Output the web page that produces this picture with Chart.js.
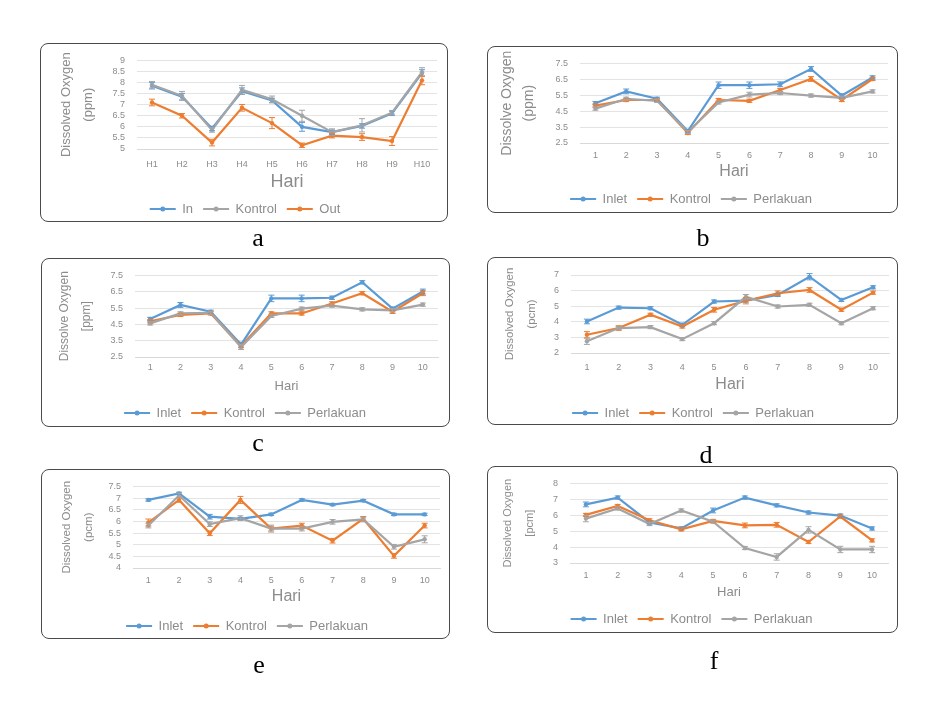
<!DOCTYPE html>
<html>
<head>
<meta charset="utf-8">
<script src="https://cdn.jsdelivr.net/npm/chart.js@4.4.1/dist/chart.umd.min.js"></script>
<style>
    body { margin: 0; background: #fff; width: 930px; height: 708px; position: relative; overflow: hidden; }
    .box { position: absolute; border: 1px solid #4a4a4a; border-radius: 8px; box-sizing: border-box; background: #fff; }
    canvas { position: absolute; }
    .tag { position: absolute; font-family: "Liberation Serif", "Times New Roman", serif; font-size: 26px; line-height: 26px; color: #000; transform: translateX(-50%); }
</style>
</head>
<body>
<div class="box" id="boxA"></div><canvas id="chartA"></canvas>
<div class="box" id="boxB"></div><canvas id="chartB"></canvas>
<div class="box" id="boxC"></div><canvas id="chartC"></canvas>
<div class="box" id="boxD"></div><canvas id="chartD"></canvas>
<div class="box" id="boxE"></div><canvas id="chartE"></canvas>
<div class="box" id="boxF"></div><canvas id="chartF"></canvas>
<div class="tag" style="left:258px;top:225px">a</div>
<div class="tag" style="left:703px;top:225px">b</div>
<div class="tag" style="left:258px;top:430px">c</div>
<div class="tag" style="left:706px;top:442px">d</div>
<div class="tag" style="left:259px;top:652px">e</div>
<div class="tag" style="left:714px;top:648px">f</div>
<script>
// Categories
const hariA = ['H1', 'H2', 'H3', 'H4', 'H5', 'H6', 'H7', 'H8', 'H9', 'H10'];
const hari = ['1', '2', '3', '4', '5', '6', '7', '8', '9', '10'];

// Y tick labels
const yTicksA = [5, 5.5, 6, 6.5, 7, 7.5, 8, 8.5, 9];
const yTicksB = [2.5, 3.5, 4.5, 5.5, 6.5, 7.5];
const yTicksC = [2.5, 3.5, 4.5, 5.5, 6.5, 7.5];
const yTicksD = [2, 3, 4, 5, 6, 7];
const yTicksE = [4, 4.5, 5, 5.5, 6, 6.5, 7, 7.5];
const yTicksF = [3, 4, 5, 6, 7, 8];

// Panel a
const aIn = [7.86, 7.36, 5.93, 7.61, 7.19, 6.0, 5.76, 6.04, 6.61, 8.43];
const aKontrol = [7.9, 7.4, 5.86, 7.67, 7.24, 6.5, 5.76, 6.07, 6.64, 8.47];
const aOut = [7.1, 6.5, 5.29, 6.86, 6.17, 5.17, 5.6, 5.54, 5.36, 8.1];
const aInErr = [0.15, 0.15, 0.1, 0.15, 0.1, 0.2, 0.1, 0.1, 0.1, 0.15];
const aKontrolErr = [0.15, 0.2, 0.1, 0.2, 0.15, 0.25, 0.15, 0.3, 0.1, 0.2];
const aOutErr = [0.15, 0.1, 0.15, 0.15, 0.25, 0.1, 0.1, 0.15, 0.2, 0.2];

// Panel b
const bInlet = [5.0, 5.74, 5.28, 3.25, 6.13, 6.13, 6.19, 7.15, 5.48, 6.62];
const bKontrol = [4.85, 5.2, 5.2, 3.13, 5.2, 5.15, 5.83, 6.52, 5.2, 6.52];
const bPerlakuan = [4.66, 5.28, 5.15, 3.19, 5.05, 5.54, 5.64, 5.48, 5.34, 5.74];
const bInletErr = [0.1, 0.15, 0.1, 0.1, 0.2, 0.2, 0.15, 0.15, 0.1, 0.1];
const bKontrolErr = [0.1, 0.1, 0.1, 0.1, 0.1, 0.1, 0.1, 0.15, 0.1, 0.1];
const bPerlakuanErr = [0.1, 0.1, 0.1, 0.1, 0.1, 0.15, 0.1, 0.1, 0.1, 0.1];

// Panel c
const cInlet = [4.83, 5.69, 5.27, 3.26, 6.09, 6.09, 6.13, 7.08, 5.46, 6.51];
const cKontrol = [4.69, 5.08, 5.17, 3.17, 5.17, 5.17, 5.78, 6.41, 5.27, 6.41];
const cPerlakuan = [4.56, 5.17, 5.21, 3.11, 5.02, 5.46, 5.65, 5.42, 5.36, 5.71];
const cInletErr = [0.1, 0.15, 0.1, 0.15, 0.2, 0.2, 0.1, 0.1, 0.1, 0.15];
const cKontrolErr = [0.1, 0.1, 0.1, 0.1, 0.1, 0.1, 0.1, 0.1, 0.1, 0.15];
const cPerlakuanErr = [0.1, 0.1, 0.1, 0.15, 0.1, 0.1, 0.1, 0.1, 0.1, 0.1];

// Panel d
const dInlet = [4.02, 4.91, 4.87, 3.81, 5.3, 5.36, 5.72, 6.89, 5.4, 6.21];
const dKontrol = [3.17, 3.6, 4.45, 3.7, 4.77, 5.35, 5.83, 6.04, 4.77, 5.87];
const dPerlakuan = [2.75, 3.6, 3.66, 2.89, 3.91, 5.6, 4.98, 5.09, 3.91, 4.87];
const dInletErr = [0.15, 0.1, 0.1, 0.1, 0.1, 0.1, 0.1, 0.2, 0.1, 0.1];
const dKontrolErr = [0.2, 0.15, 0.1, 0.1, 0.15, 0.2, 0.15, 0.15, 0.1, 0.1];
const dPerlakuanErr = [0.2, 0.1, 0.1, 0.1, 0.1, 0.15, 0.1, 0.1, 0.1, 0.1];

// Panel e
const eInlet = [6.92, 7.2, 6.2, 6.11, 6.3, 6.92, 6.72, 6.89, 6.3, 6.3];
const eKontrol = [5.95, 6.92, 5.49, 6.92, 5.69, 5.82, 5.17, 6.11, 4.52, 5.82];
const ePerlakuan = [5.82, 7.11, 5.88, 6.14, 5.69, 5.69, 5.98, 6.08, 4.91, 5.23];
const eInletErr = [0.05, 0.05, 0.1, 0.05, 0.05, 0.05, 0.05, 0.05, 0.05, 0.05];
const eKontrolErr = [0.15, 0.1, 0.1, 0.15, 0.1, 0.1, 0.1, 0.1, 0.1, 0.1];
const ePerlakuanErr = [0.1, 0.1, 0.1, 0.1, 0.15, 0.1, 0.1, 0.1, 0.1, 0.15];

// Panel f
const fInlet = [6.68, 7.11, 5.55, 5.17, 6.3, 7.11, 6.62, 6.17, 5.98, 5.17];
const fKontrol = [6.02, 6.58, 5.68, 5.11, 5.64, 5.36, 5.4, 4.32, 5.92, 4.42];
const fPerlakuan = [5.79, 6.43, 5.45, 6.3, 5.6, 3.94, 3.38, 5.08, 3.85, 3.85];
const fInletErr = [0.15, 0.1, 0.1, 0.1, 0.15, 0.1, 0.1, 0.1, 0.1, 0.1];
const fKontrolErr = [0.1, 0.1, 0.1, 0.1, 0.1, 0.15, 0.15, 0.1, 0.1, 0.1];
const fPerlakuanErr = [0.2, 0.1, 0.1, 0.1, 0.1, 0.1, 0.2, 0.2, 0.2, 0.2];

const BLUE = '#5b9bd5';
const ORANGE = '#ed7d31';
const GRAY = '#a5a5a5';
const TEXT = '#8c8c8c';
const LEG_LINE = 26;
const LEG_SIZE = 13;

// Error bars drawn from the y scale
const errorBars = {
    id: 'errorBars',
    afterDatasetsDraw(chart) {
        const ctx = chart.ctx;
        const y = chart.scales.y;
        chart.data.datasets.forEach((ds, i) => {
            if (!ds.errors) return;
            const meta = chart.getDatasetMeta(i);
            ctx.save();
            ctx.strokeStyle = ds.borderColor;
            ctx.lineWidth = 1;
            meta.data.forEach((pt, j) => {
                const e = ds.errors[j];
                const v = ds.data[j];
                const top = y.getPixelForValue(v + e);
                const bot = y.getPixelForValue(v - e);
                ctx.beginPath();
                ctx.moveTo(pt.x, top); ctx.lineTo(pt.x, bot);
                ctx.moveTo(pt.x - 3, top); ctx.lineTo(pt.x + 3, top);
                ctx.moveTo(pt.x - 3, bot); ctx.lineTo(pt.x + 3, bot);
                ctx.stroke();
            });
            ctx.restore();
        });
    }
};

// Marker in the middle of each legend line
const legendMarkers = {
    id: 'legendMarkers',
    afterDraw(chart) {
        const legend = chart.legend;
        if (!legend || !legend.legendHitBoxes) return;
        const ctx = chart.ctx;
        legend.legendHitBoxes.forEach((hb, i) => {
            const item = legend.legendItems[i];
            const ds = chart.data.datasets[item.datasetIndex];
            ctx.save();
            ctx.fillStyle = ds.borderColor;
            ctx.beginPath();
            ctx.arc(hb.left + LEG_LINE / 2, hb.top + LEG_SIZE / 2, 2.5, 0, Math.PI * 2);
            ctx.fill();
            ctx.restore();
        });
    }
};

function makeDataset(label, data, errors, color, order) {
    return {
        label: label,
        data: data,
        errors: errors,
        borderColor: color,
        backgroundColor: color,
        pointBackgroundColor: color,
        pointBorderColor: color,
        borderWidth: 2.2,
        pointRadius: 2.2,
        pointBorderWidth: 0,
        tension: 0,
        order: order
    };
}

// g: box [x,y,w,h], plot [left,right,top,bottom], yTitleX, tickY, hariY, legendY (page coords)
function makeChart(id, boxId, g, labels, yTicks, yTitle, yTitleSize, hariSize, datasets) {
    const [bx, by, bw, bh] = g.box;
    const box = document.getElementById(boxId);
    box.style.left = bx + 'px'; box.style.top = by + 'px';
    box.style.width = bw + 'px'; box.style.height = bh + 'px';

    const canvas = document.getElementById(id);
    const W = bw, H = bh + 14;
    canvas.width = W; canvas.height = H;
    canvas.style.left = bx + 'px'; canvas.style.top = by + 'px';

    const titleLH = 22;
    const padLeft = g.yTitleX - bx - titleLH / 2 - 2;
    const padRight = bx + bw - g.plot[1];
    const padTop = g.plot[2] - by;
    const legPad = 10;
    const legTop = g.legendY - by - legPad - LEG_SIZE / 2;
    const legH = LEG_SIZE + legPad + 10;
    const padBottom = H - legTop - legH;
    const plotBottom = g.plot[3] - by;
    const xAxisH = legTop - plotBottom;
    const tickPad = g.tickY - g.plot[3] - 9 * 1.2 / 2;
    const hariPadBottom = legTop - (g.hariY - by) - hariSize * 1.2 / 2;
    const yAxisW = g.plot[0] - bx - padLeft;

    return new Chart(canvas.getContext('2d'), {
        type: 'line',
        data: { labels: labels, datasets: datasets },
        plugins: [errorBars, legendMarkers],
        options: {
            responsive: false,
            animation: false,
            devicePixelRatio: 1,
            layout: { padding: { left: padLeft, right: padRight, top: padTop, bottom: padBottom } },
            plugins: {
                tooltip: { enabled: false },
                legend: {
                    position: 'bottom',
                    labels: {
                        usePointStyle: true,
                        pointStyle: 'line',
                        pointStyleWidth: LEG_LINE,
                        padding: legPad,
                        color: TEXT,
                        font: { family: 'Liberation Sans', size: LEG_SIZE },
                        sort: (a, b) => a.datasetIndex - b.datasetIndex,
                        generateLabels: chart => Chart.defaults.plugins.legend.labels.generateLabels(chart)
                            .map(l => Object.assign(l, { lineWidth: 2.2, strokeStyle: chart.data.datasets[l.datasetIndex].borderColor }))
                    }
                }
            },
            scales: {
                x: {
                    offset: true,
                    grid: { display: false, drawTicks: false, tickLength: 0 },
                    border: { display: true, color: '#d9d9d9' },
                    ticks: { padding: tickPad, color: TEXT, font: { family: 'Liberation Sans', size: 9 }, maxRotation: 0, autoSkip: false },
                    title: {
                        display: true, text: 'Hari', color: TEXT,
                        font: { family: 'Liberation Sans', size: hariSize },
                        padding: { top: 0, bottom: hariPadBottom }
                    },
                    afterFit: s => { s.height = xAxisH; }
                },
                y: {
                    min: yTicks[0],
                    max: yTicks[yTicks.length - 1],
                    grid: { color: '#e3e3e3', drawTicks: false, tickLength: 0 },
                    border: { display: false },
                    afterBuildTicks: s => { s.ticks = yTicks.map(v => ({ value: v })); },
                    ticks: { padding: 12, autoSkip: false, color: TEXT, font: { family: 'Liberation Sans', size: 9 }, callback: v => String(v) },
                    title: {
                        display: true, text: yTitle, color: TEXT,
                        font: { family: 'Liberation Sans', size: yTitleSize, lineHeight: titleLH / yTitleSize },
                        padding: { top: 2, bottom: 0 }
                    },
                    afterFit: s => { s.width = yAxisW; }
                }
            }
        }
    });
}

// Initialize charts
makeChart('chartA', 'boxA',
    { box: [40, 43, 408, 179], plot: [137, 437, 55, 149], yTitleX: 66, tickY: 165, hariY: 182, legendY: 209 },
    hariA, yTicksA, ['Dissolved Oxygen', '(ppm)'], 13, 18, [
        makeDataset('In', aIn, aInErr, BLUE, 3),
        makeDataset('Kontrol', aKontrol, aKontrolErr, GRAY, 2),
        makeDataset('Out', aOut, aOutErr, ORANGE, 1)
    ]);

makeChart('chartB', 'boxB',
    { box: [487, 46, 411, 167], plot: [580, 888, 58, 143], yTitleX: 507, tickY: 156, hariY: 172, legendY: 199 },
    hari, yTicksB, ['Dissolve Oxygen', '(ppm)'], 14, 16, [
        makeDataset('Inlet', bInlet, bInletErr, BLUE, 3),
        makeDataset('Kontrol', bKontrol, bKontrolErr, ORANGE, 2),
        makeDataset('Perlakuan', bPerlakuan, bPerlakuanErr, GRAY, 1)
    ]);

makeChart('chartC', 'boxC',
    { box: [41, 258, 409, 169], plot: [135, 438, 269, 357], yTitleX: 65, tickY: 368, hariY: 386, legendY: 413 },
    hari, yTicksC, ['Dissolve Oxygen', '[ppm]'], 12, 13, [
        makeDataset('Inlet', cInlet, cInletErr, BLUE, 3),
        makeDataset('Kontrol', cKontrol, cKontrolErr, ORANGE, 2),
        makeDataset('Perlakuan', cPerlakuan, cPerlakuanErr, GRAY, 1)
    ]);

makeChart('chartD', 'boxD',
    { box: [487, 257, 411, 168], plot: [571, 889, 275, 353], yTitleX: 510, tickY: 368, hariY: 385, legendY: 413 },
    hari, yTicksD, ['Dissolved Oxygen', '(pcm)'], 11.5, 16, [
        makeDataset('Inlet', dInlet, dInletErr, BLUE, 3),
        makeDataset('Kontrol', dKontrol, dKontrolErr, ORANGE, 2),
        makeDataset('Perlakuan', dPerlakuan, dPerlakuanErr, GRAY, 1)
    ]);

makeChart('chartE', 'boxE',
    { box: [41, 469, 409, 170], plot: [133, 440, 478, 568], yTitleX: 67, tickY: 581, hariY: 597, legendY: 626 },
    hari, yTicksE, ['Dissolved Oxygen', '(pcm)'], 11.5, 16, [
        makeDataset('Inlet', eInlet, eInletErr, BLUE, 3),
        makeDataset('Kontrol', eKontrol, eKontrolErr, ORANGE, 2),
        makeDataset('Perlakuan', ePerlakuan, ePerlakuanErr, GRAY, 1)
    ]);

makeChart('chartF', 'boxF',
    { box: [487, 466, 411, 167], plot: [570, 888, 475, 563], yTitleX: 508, tickY: 576, hariY: 592, legendY: 619 },
    hari, yTicksF, ['Dissolved Oxygen', '[pcm]'], 11, 13, [
        makeDataset('Inlet', fInlet, fInletErr, BLUE, 3),
        makeDataset('Kontrol', fKontrol, fKontrolErr, ORANGE, 2),
        makeDataset('Perlakuan', fPerlakuan, fPerlakuanErr, GRAY, 1)
    ]);
</script>
</body>
</html>
